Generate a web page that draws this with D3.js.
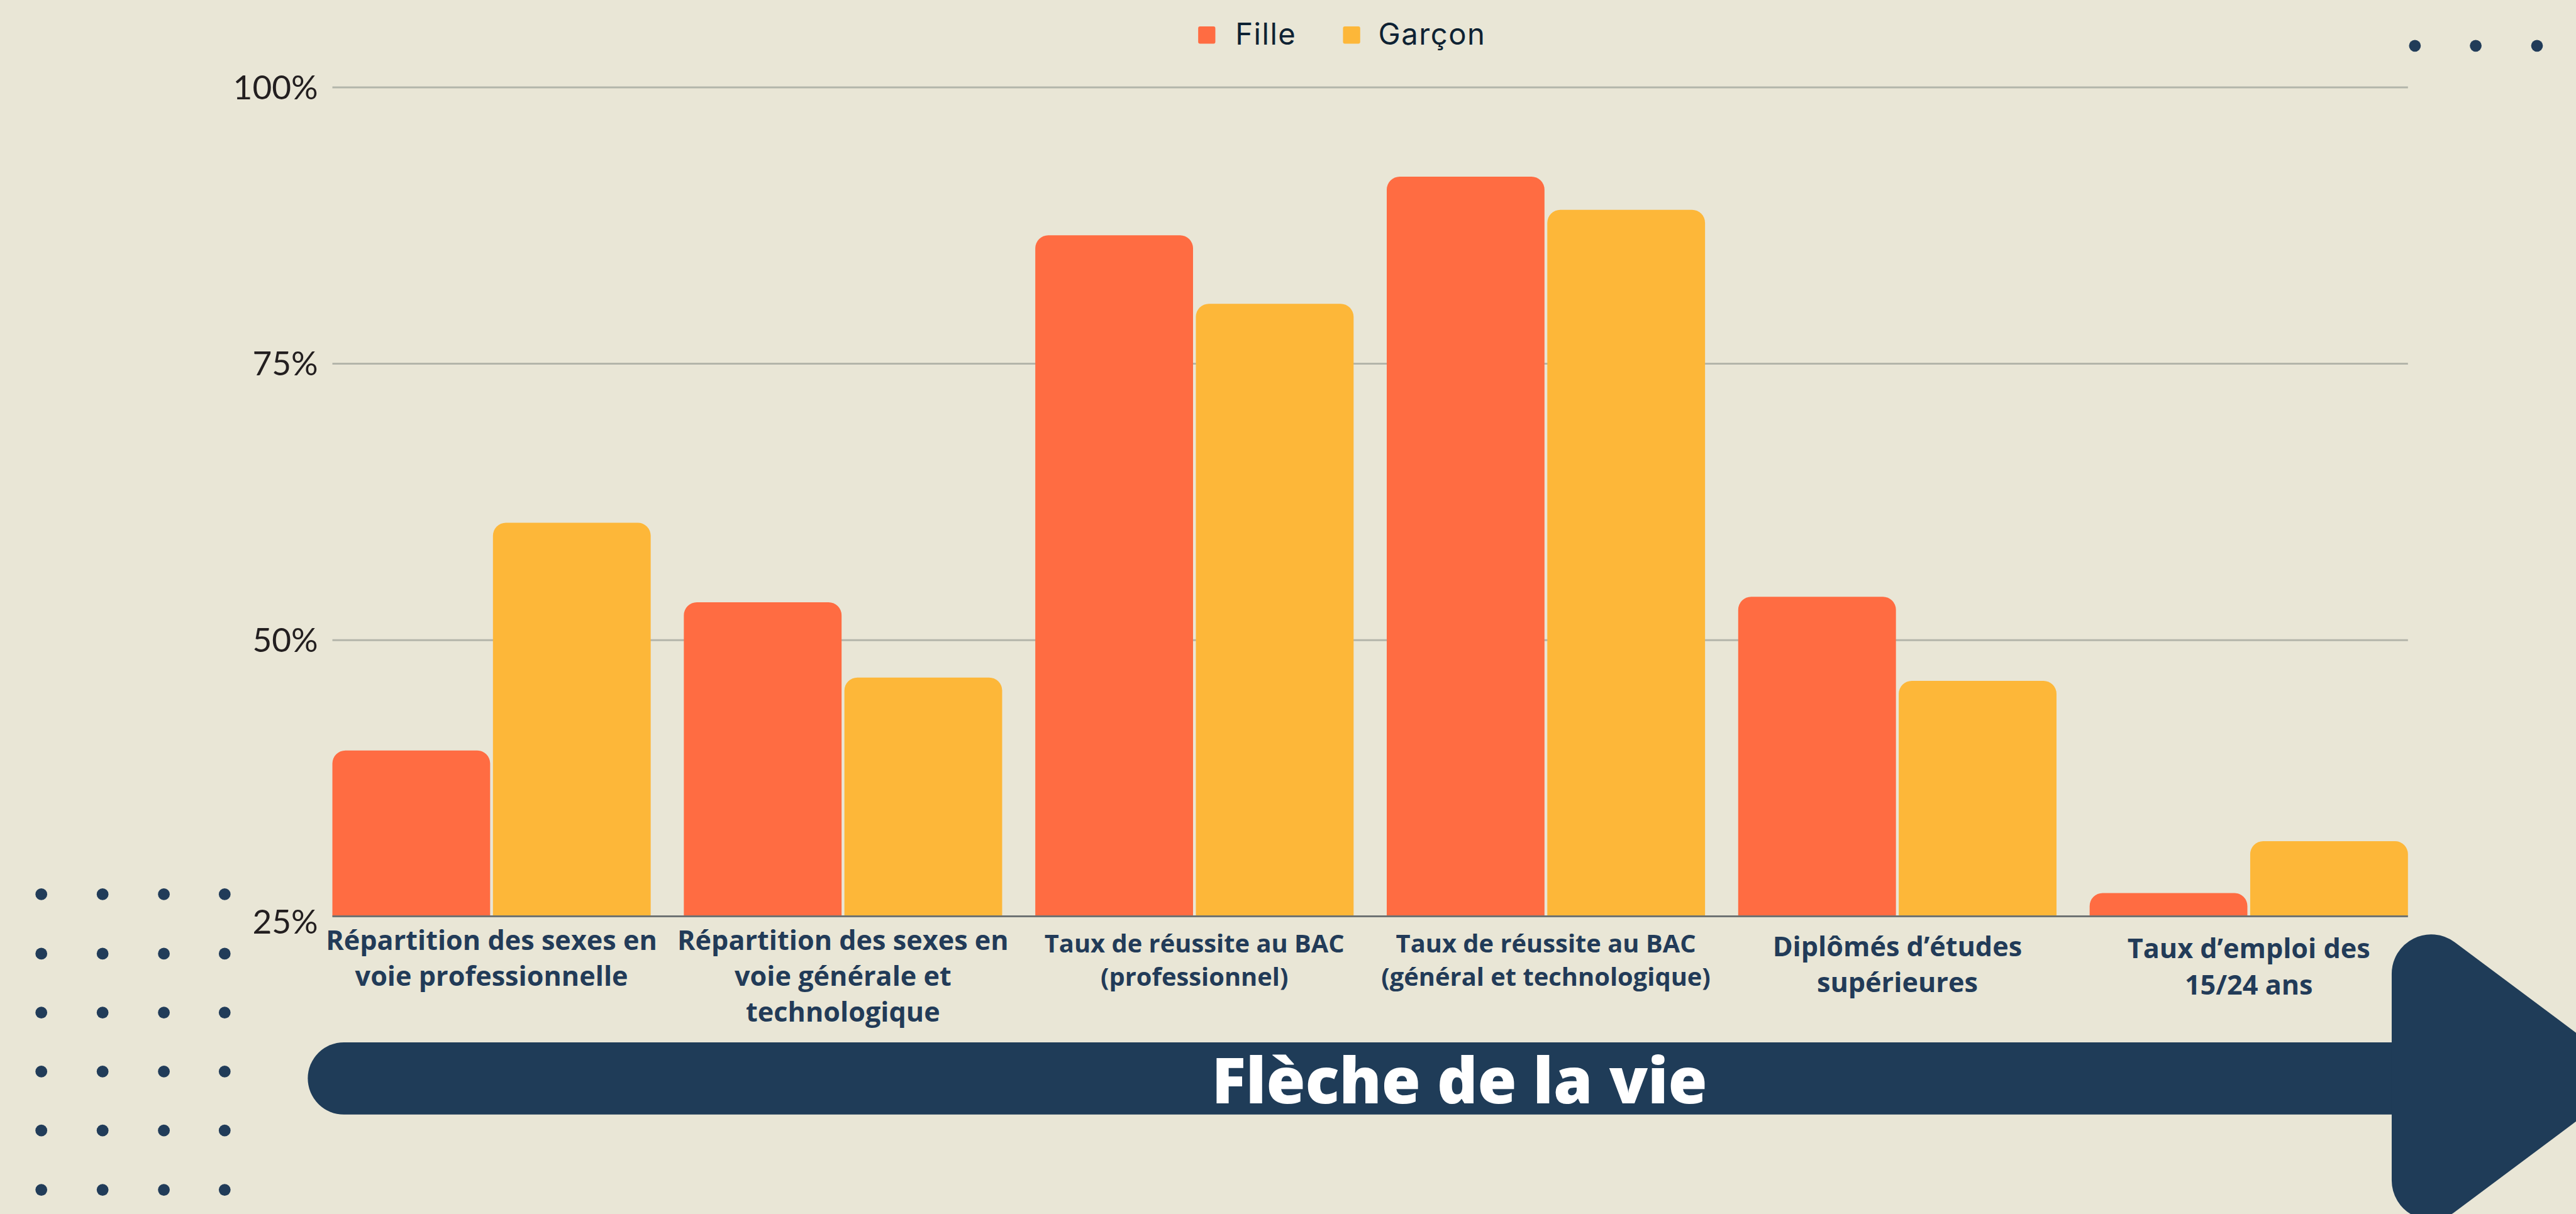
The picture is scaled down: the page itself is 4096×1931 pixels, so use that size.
<!DOCTYPE html>
<html>
<head>
<meta charset="utf-8">
<script src="https://cdn.jsdelivr.net/npm/d3@7"></script>
<style>
  html, body { margin: 0; padding: 0; background: #e9e6d6; overflow: hidden; }
  svg { display: block; }
</style>
</head>
<body>
<svg id="chart"></svg>
<script>
// ---- data ----
const categories = [
  "Répartition des sexes en\nvoie professionnelle",
  "Répartition des sexes en\nvoie générale et\ntechnologique",
  "Taux de réussite au BAC\n(professionnel)",
  "Taux de réussite au BAC\n(général et technologique)",
  "Diplômés d’études\nsupérieures",
  "Taux d’emploi des\n15/24 ans"
];
const seriesNames = ["Fille", "Garçon"];
const filleValues  = [40.0, 53.4, 86.6, 91.9, 53.9, 27.1];
const garconValues = [60.6, 46.6, 80.4, 88.9, 46.3, 31.8];
const yTickValues  = [25, 50, 75, 100];
const titleText = "Flèche de la vie";

// ---- canvas: drawn in a 5549 x 2616 coordinate space, shown at 4096 x 1931 ----
const W = 5549, H = 2616;
const svg = d3.select("#chart")
  .attr("width", 4096).attr("height", 1931)
  .attr("viewBox", `0 0 ${W} ${H}`);

const colors = { Fille: "#ff6c42", "Garçon": "#fdb739" };
const navy = "#1f3c58";

svg.append("rect").attr("width", W).attr("height", H).attr("fill", "#e9e6d6");

// ---- scales ----
const plotLeft = 716, plotRight = 5187;
const y = d3.scaleLinear().domain([25, 100]).range([1974.5, 187.7]);
const x0 = d3.scaleBand().domain(d3.range(categories.length))
  .range([plotLeft, plotRight]).paddingInner(0.0943).paddingOuter(0);
const x1 = d3.scaleBand().domain(seriesNames)
  .range([0, x0.bandwidth()]).paddingInner(0.0175);

// ---- y axis with gridlines ----
const yAxis = d3.axisLeft(y)
  .tickValues(yTickValues)
  .tickSize(-(plotRight - plotLeft))
  .tickPadding(31)
  .tickFormat(d => d + "%");

const gAxis = svg.append("g")
  .attr("transform", `translate(${plotLeft},0)`)
  .call(yAxis);
gAxis.select(".domain").remove();
gAxis.selectAll(".tick line")
  .attr("stroke", "#b3b5aa").attr("stroke-width", 4)
  .attr("opacity", d => d === 25 ? 0 : 1);
gAxis.selectAll(".tick text")
  .attr("fill", "#231f20")
  .style("font-family", "Lato, sans-serif")
  .style("font-size", "72px")
  .attr("dy", d => d === 25 ? "0.52em" : "0.35em");

// ---- bars (rounded top corners) ----
function topRoundedBar(x, yTop, w, h, r) {
  const p = d3.path();
  r = Math.min(r, h, w / 2);
  p.moveTo(x, yTop + h);
  p.lineTo(x, yTop + r);
  p.arcTo(x, yTop, x + r, yTop, r);
  p.lineTo(x + w - r, yTop);
  p.arcTo(x + w, yTop, x + w, yTop + r, r);
  p.lineTo(x + w, yTop + h);
  p.closePath();
  return p.toString();
}

const rows = categories.map((c, i) => ({
  i,
  values: [
    { key: "Fille", v: filleValues[i] },
    { key: "Garçon", v: garconValues[i] }
  ]
}));

const groups = svg.append("g").selectAll("g")
  .data(rows).join("g")
  .attr("transform", d => `translate(${x0(d.i)},0)`);

groups.selectAll("path")
  .data(d => d.values).join("path")
  .attr("fill", d => colors[d.key])
  .attr("d", d => topRoundedBar(x1(d.key), y(d.v), x1.bandwidth(), y(25) - y(d.v), 28));

// baseline
svg.append("line")
  .attr("x1", plotLeft).attr("x2", plotRight)
  .attr("y1", y(25)).attr("y2", y(25))
  .attr("stroke", "#6e7373").attr("stroke-width", 4);

// ---- category labels ----
const labelStyle = [
  { size: 58.5, weight: 700, base: 2047, lh: 77 },
  { size: 58.5, weight: 700, base: 2047, lh: 77 },
  { size: 54, weight: 700, base: 2052, lh: 72 },
  { size: 54, weight: 700, base: 2052, lh: 72 },
  { size: 58.5, weight: 700, base: 2060, lh: 78 },
  { size: 58.5, weight: 700, base: 2065, lh: 78 }
];
const labels = svg.append("g").selectAll("text")
  .data(categories).join("text")
  .attr("text-anchor", "middle")
  .attr("fill", "#223b58")
  .style("font-family", "'Open Sans', sans-serif")
  .style("font-weight", (d, i) => labelStyle[i].weight)
  .style("font-size", (d, i) => labelStyle[i].size + "px")
  .attr("transform", (d, i) => `translate(${x0(i) + x0.bandwidth() / 2},${labelStyle[i].base})`);
labels.each(function (d, i) {
  d3.select(this).selectAll("tspan")
    .data(d.split("\n")).join("tspan")
    .attr("x", 0)
    .attr("y", (t, k) => k * labelStyle[i].lh)
    .text(t => t);
});

// ---- legend ----
const legendItems = [
  { key: "Fille", sx: 2581, tx: 2661 },
  { key: "Garçon", sx: 2893, tx: 2969 }
];
const legend = svg.append("g");
legend.selectAll("rect").data(legendItems).join("rect")
  .attr("x", d => d.sx).attr("y", 57).attr("width", 37).attr("height", 37)
  .attr("rx", 4).attr("fill", d => colors[d.key]);
legend.selectAll("text").data(legendItems).join("text")
  .attr("x", d => d.tx).attr("y", 96)
  .attr("fill", "#0e2233")
  .style("font-family", "Inter, 'Noto Sans', sans-serif")
  .style("font-size", "64px")
  .style("letter-spacing", "2px")
  .text(d => d.key);

// ---- decorative dots ----
const dotColor = "#213c59";
const deco = svg.append("g").attr("fill", dotColor);
const leftCols = [89, 221, 353, 484];
const leftRows = [1927, 2055, 2182, 2309, 2436, 2564];
leftRows.forEach(cy => leftCols.forEach(cx =>
  deco.append("circle").attr("cx", cx).attr("cy", cy).attr("r", 12.7)));
[5202, 5333, 5465].forEach(cx =>
  deco.append("circle").attr("cx", cx).attr("cy", 98.7).attr("r", 12.7));

// ---- arrow ----
const arrow = svg.append("g").attr("fill", navy);
arrow.append("rect")
  .attr("x", 663).attr("y", 2246).attr("width", 5400 - 663).attr("height", 155.7)
  .attr("rx", 77.85);

function roundedPolygon(pts, r) {
  const p = d3.path();
  const n = pts.length;
  const last = pts[n - 1], first = pts[0];
  p.moveTo((last[0] + first[0]) / 2, (last[1] + first[1]) / 2);
  for (let k = 0; k < n; k++) {
    const a = pts[k], b = pts[(k + 1) % n];
    p.arcTo(a[0], a[1], b[0], b[1], r);
  }
  p.closePath();
  return p.toString();
}
arrow.append("path")
  .attr("d", roundedPolygon([[5152, 1929], [5677, 2321], [5152, 2713]], 85));

svg.append("text")
  .attr("x", 3144).attr("y", 2377)
  .attr("text-anchor", "middle")
  .attr("fill", "#ffffff")
  .style("font-family", "'Open Sans', sans-serif")
  .style("font-weight", 800)
  .style("font-size", "136px")
  .text(titleText);
</script>
</body>
</html>
